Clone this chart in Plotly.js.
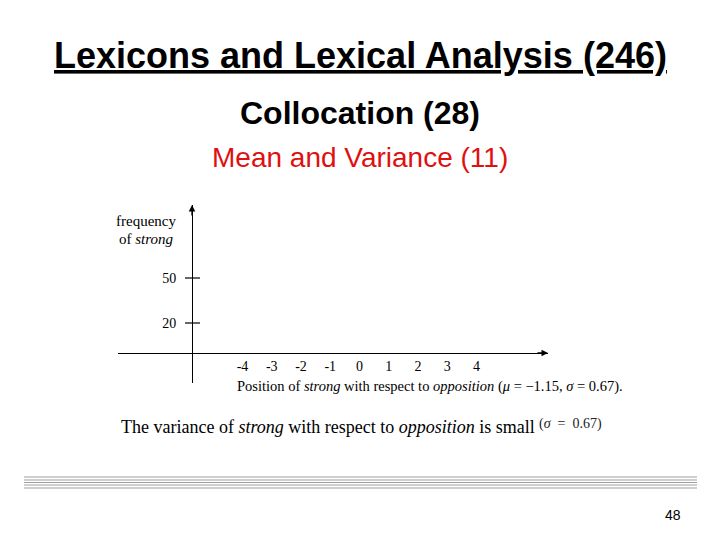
<!DOCTYPE html>
<html>
<head>
<meta charset="utf-8">
<script src="https://cdn.plot.ly/plotly-3.0.1.min.js"></script>
<style>html,body{margin:0;padding:0;background:#fff;}#chart{width:720px;height:540px;}</style>
</head>
<body>
<div id="chart"></div>
<script>
// ---- data ----
const xTickVals = [-4, -3, -2, -1, 0, 1, 2, 3, 4];
const xTickText = ['-4', '-3', '-2', '-1', '0', '1', '2', '3', '4'];
const yTickVals = [20, 50];
const yTickText = ['20', '50'];
const frequencies = [];   // no bars visible in the reference
const positions = [];

// ---- geometry helpers (pixel -> paper) ----
const W = 720, H = 540;
const px = v => v / W;
const py = v => 1 - v / H;

// axis mapping: 0 at x=359.5px, 29.25 px per unit; y=0 at 353px, 1.5 px per unit
const xDom = [118, 548], yDom = [383, 205];
const xRange = [(xDom[0] - 359.5) / 29.25, (xDom[1] - 359.5) / 29.25];
const yRange = [(353 - yDom[0]) / 1.5, (353 - yDom[1]) / 1.5];

const serif = 'Liberation Serif, Times New Roman, serif';
const sans = 'Liberation Sans, Arial, sans-serif';

const shapes = [];
// y tick marks crossing the axis
yTickVals.forEach(v => {
  shapes.push({type: 'line', xref: 'paper', yref: 'y', x0: px(185), x1: px(200), y0: v, y1: v,
    line: {color: '#000', width: 1.2}});
});
// decorative gray lines at the bottom
[477, 480, 482.5, 485, 488].forEach(y => {
  shapes.push({type: 'line', xref: 'paper', yref: 'paper', x0: px(24), x1: px(697), y0: py(y), y1: py(y),
    line: {color: '#a0a0a0', width: 1.2}});
});

const annotations = [
  {text: '<u><b>Lexicons and Lexical Analysis (246)</b></u>', x: 0.5, y: py(55), xref: 'paper', yref: 'paper',
   xanchor: 'center', yanchor: 'middle', showarrow: false, font: {family: sans, size: 36, color: '#000'}},
  {text: '<b>Collocation (28)</b>', x: 0.5, y: py(113), xref: 'paper', yref: 'paper',
   xanchor: 'center', yanchor: 'middle', showarrow: false, font: {family: sans, size: 32, color: '#000'}},
  {text: 'Mean and Variance (11)', x: 0.5, y: py(157), xref: 'paper', yref: 'paper',
   xanchor: 'center', yanchor: 'middle', showarrow: false, font: {family: sans, size: 28, color: '#e01010'}},
  {text: 'frequency', x: px(146), y: py(221), xref: 'paper', yref: 'paper',
   xanchor: 'center', yanchor: 'middle', showarrow: false, font: {family: serif, size: 15, color: '#000'}},
  {text: 'of <i>strong</i>', x: px(146), y: py(239), xref: 'paper', yref: 'paper',
   xanchor: 'center', yanchor: 'middle', showarrow: false, font: {family: serif, size: 15, color: '#000'}},
  {text: 'Position of <i>strong</i> with respect to <i>opposition</i> (<i>μ</i> = −1.15, <i>σ</i> = 0.67).',
   x: px(235), y: py(386), xref: 'paper', yref: 'paper',
   xanchor: 'left', yanchor: 'middle', showarrow: false, font: {family: serif, size: 14.5, color: '#000'}},
  {text: 'The variance of <i>strong</i> with respect to <i>opposition</i> is small',
   x: px(119), y: py(427), xref: 'paper', yref: 'paper',
   xanchor: 'left', yanchor: 'middle', showarrow: false, font: {family: serif, size: 18, color: '#000'}},
  {text: '(<i>σ</i>  =  0.67)', x: px(537), y: py(424), xref: 'paper', yref: 'paper',
   xanchor: 'left', yanchor: 'middle', showarrow: false, font: {family: serif, size: 14, color: '#222'}},
  {text: '48', x: px(673), y: py(515), xref: 'paper', yref: 'paper',
   xanchor: 'center', yanchor: 'middle', showarrow: false, font: {family: sans, size: 14, color: '#000'}},
  // arrow heads
  {text: '', x: px(548), y: py(353), xref: 'paper', yref: 'paper', showarrow: true,
   ax: -12, ay: 0, arrowhead: 2, arrowsize: 1, arrowwidth: 1.3, arrowcolor: '#000'},
  {text: '', x: px(192), y: py(205), xref: 'paper', yref: 'paper', showarrow: true,
   ax: 0, ay: 12, arrowhead: 2, arrowsize: 1, arrowwidth: 1.3, arrowcolor: '#000'}
];

const data = [{type: 'bar', x: positions, y: frequencies, marker: {color: '#000'}, hoverinfo: 'skip'}];

const layout = {
  width: W, height: H,
  margin: {l: 0, r: 0, t: 0, b: 0},
  paper_bgcolor: '#fff', plot_bgcolor: 'rgba(0,0,0,0)',
  showlegend: false,
  xaxis: {
    domain: [px(xDom[0]), px(xDom[1])], range: xRange, anchor: 'free', position: py(353),
    showline: true, linecolor: '#000', linewidth: 1.3, showgrid: false, zeroline: false,
    tickmode: 'array', tickvals: xTickVals, ticktext: xTickText, ticks: '',
    tickfont: {family: serif, size: 14, color: '#000'}, fixedrange: true
  },
  yaxis: {
    domain: [py(yDom[0]), py(yDom[1])], range: yRange, anchor: 'free', position: px(192),
    showline: true, linecolor: '#000', linewidth: 1.3, showgrid: false, zeroline: false,
    tickmode: 'array', tickvals: yTickVals, ticktext: yTickText, ticks: '',
    ticklabelstandoff: 13,
    tickfont: {family: serif, size: 14, color: '#000'}, fixedrange: true
  },
  shapes: shapes,
  annotations: annotations
};

Plotly.newPlot('chart', data, layout, {staticPlot: true, displayModeBar: false});
</script>
</body>
</html>
